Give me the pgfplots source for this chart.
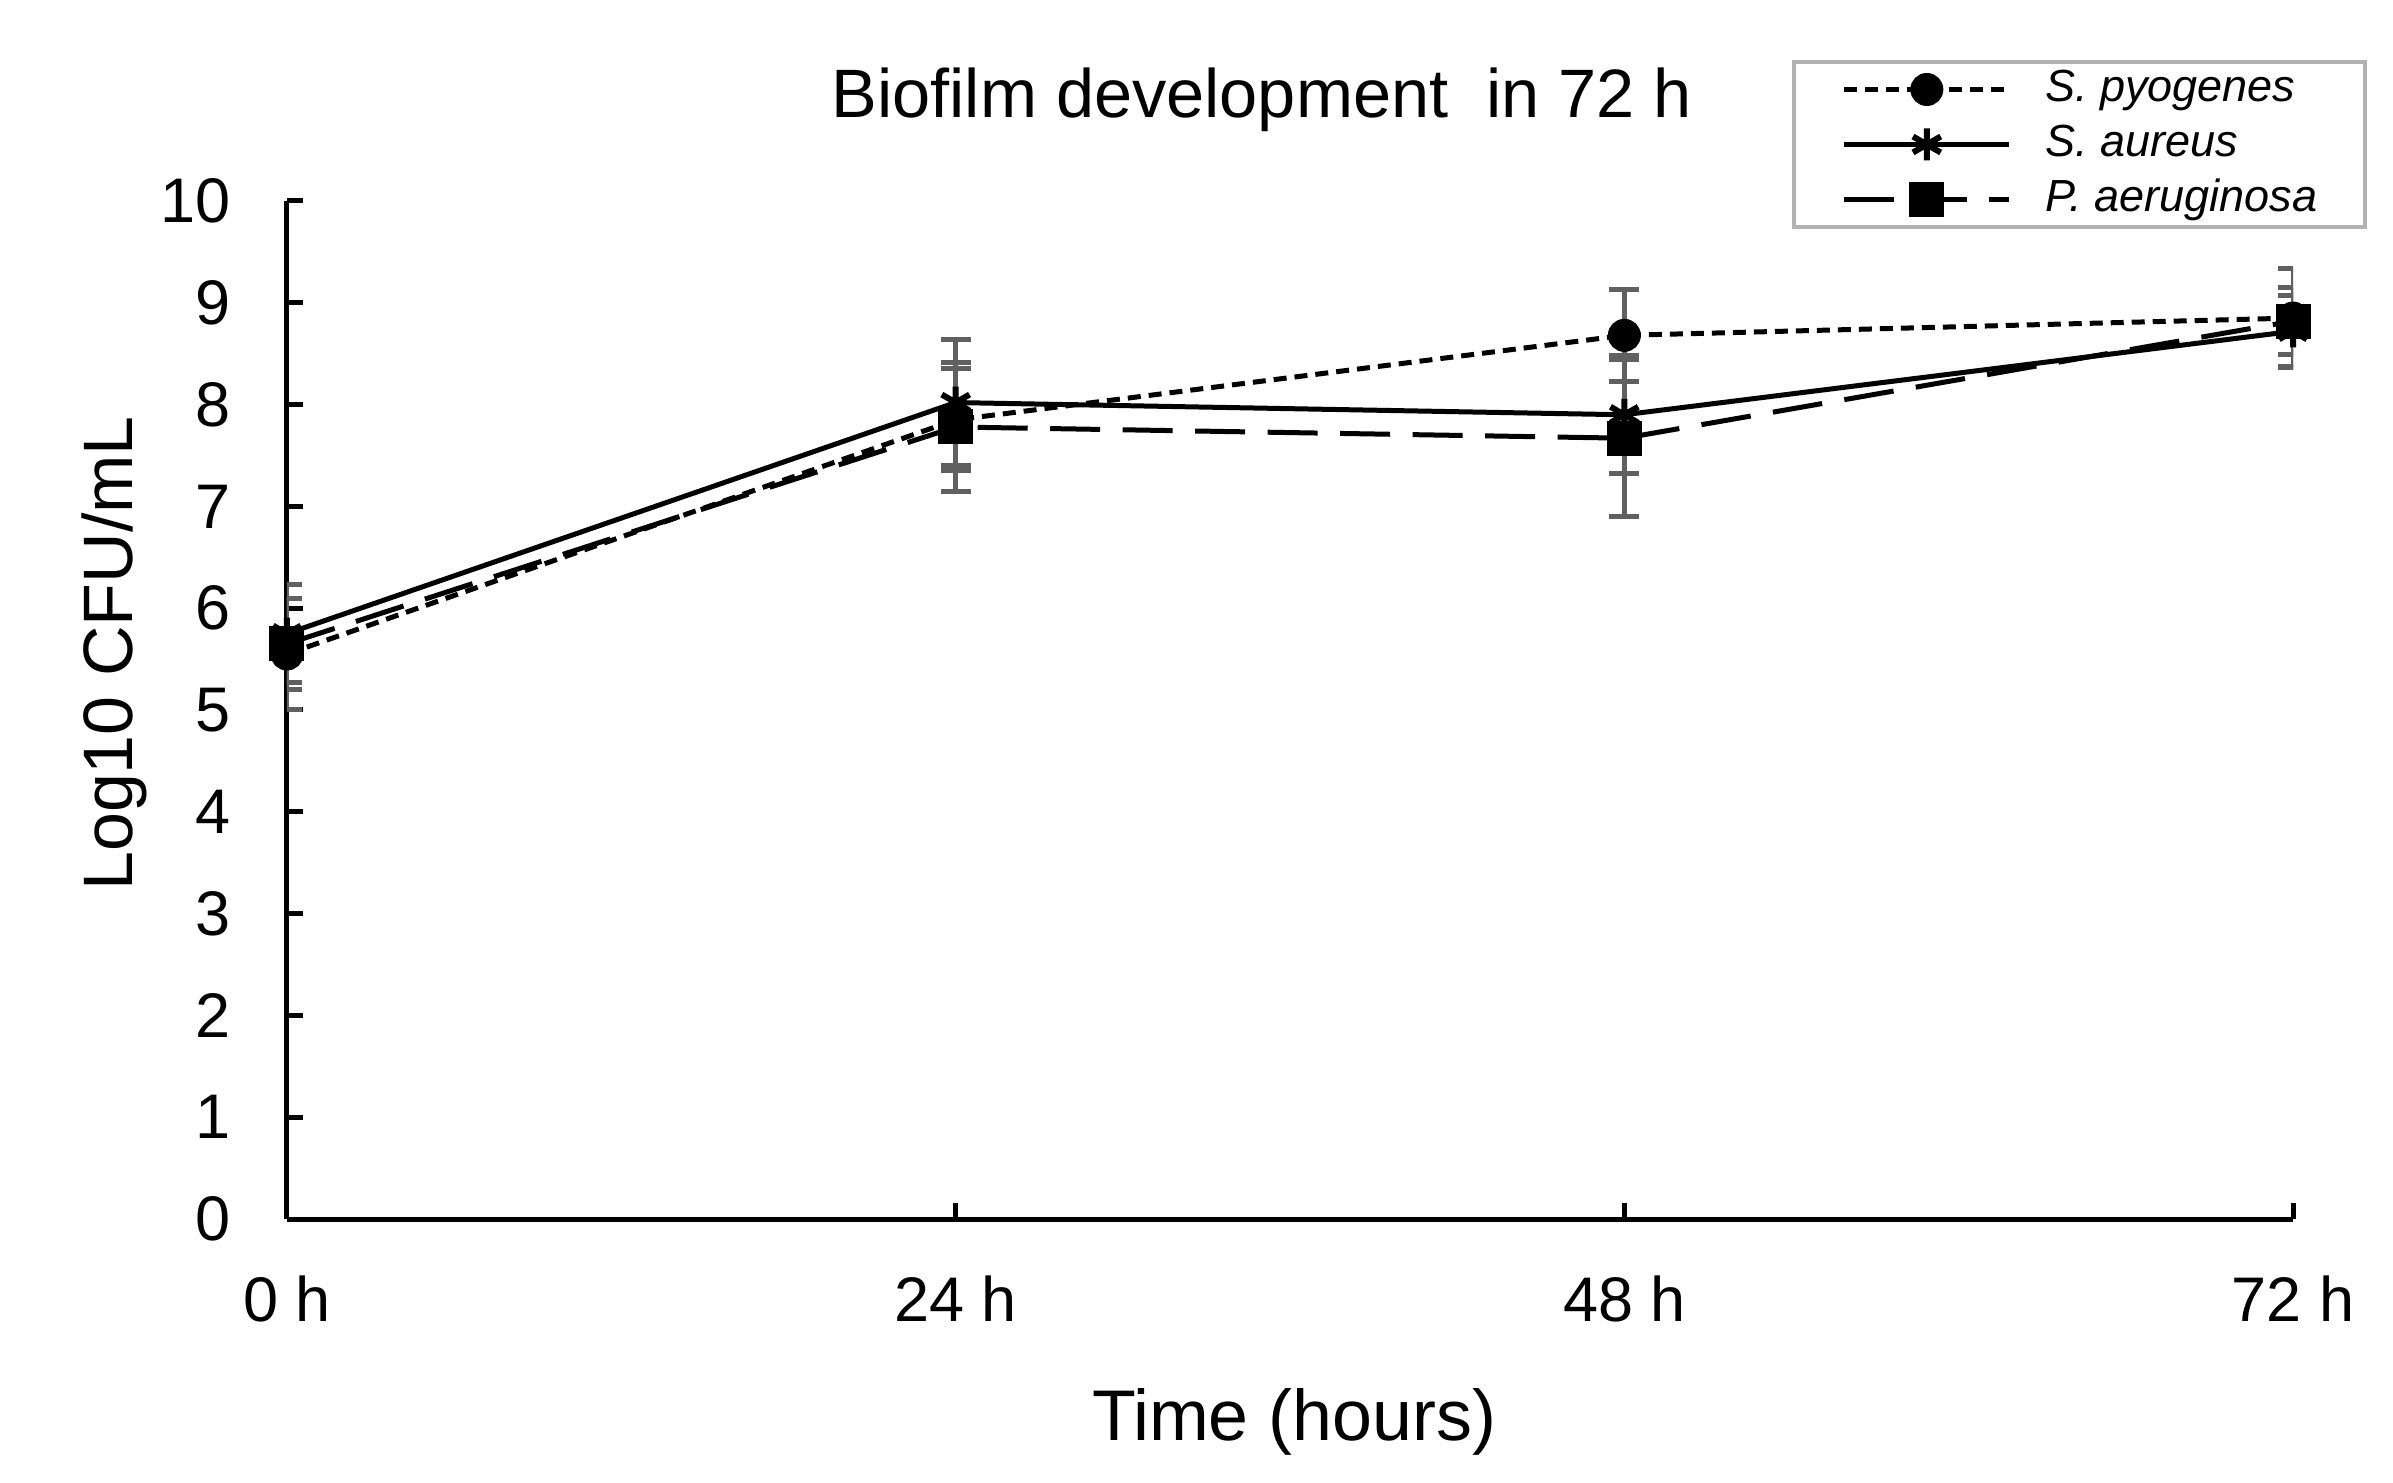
\documentclass[border=0pt]{standalone}
\usepackage{fontspec}
\setmainfont{Liberation Sans}
\usepackage{pgfplots}
\pgfplotsset{compat=1.18}
\begin{document}
\begin{tikzpicture}
\begin{axis}[
    scale only axis,
    width=401.2pt, height=203.6pt,
    xmin=0, xmax=72, ymin=0, ymax=10,
    axis lines=left,
    axis line style={-, line width=1pt},
    tick align=inside,
    major tick length=3.2pt,
    tick style={line width=1pt, black},
    xtick={0,24,48,72},
    xticklabels={0 h,24 h,48 h,72 h},
    ytick={0,1,...,10},
    /pgf/number format/assume math mode=true,
    tick label style={font=\fontsize{12.6}{15}\selectfont},
    xticklabel style={yshift=-7.8pt},
    yticklabel style={xshift=-7.8pt},
    title={Biofilm development\ \ in 72 h},
    title style={at={(axis description cs:0.486,1.07)}, anchor=center, font=\fontsize{13.7}{16}\selectfont},
    xlabel={Time (hours)},
    xlabel style={at={(axis description cs:0.502,-0.1995)}, anchor=center, font=\fontsize{14.35}{17}\selectfont},
    ylabel={Log10 CFU/mL},
    ylabel style={at={(axis description cs:-0.086,0.5555)}, anchor=center, font=\fontsize{14}{17}\selectfont},
    legend style={at={(axis description cs:1.037,1.1385)}, anchor=north east,
        draw=gray!60, line width=0.8pt, inner xsep=9.6pt, inner ysep=1pt,
        font=\fontsize{9}{10}\selectfont, row sep=2pt,
        nodes={inner xsep=0pt, inner ysep=0pt, text height=7pt, text depth=2pt},
        /tikz/every odd column/.append style={column sep=6.7pt}},
    legend cell align=left,
    legend image code/.code={
        \draw[mark repeat=2, mark phase=2] plot coordinates {(0cm,0cm) (0.58cm,0cm) (1.16cm,0cm)};
    },
    error bars/y dir=both,
    error bars/y explicit,
    error bars/error bar style={gray!75!black, line width=1pt, solid},
    error bars/error mark options={rotate=90, mark size=3pt, line width=1pt, gray!75!black, solid},
]
% S. pyogenes
\addplot[black, line width=1pt, dash pattern=on 2.6pt off 1.6pt, mark=*, mark size=2.8pt, mark options={solid}]
    coordinates {(0,5.55) +- (0,0.55) (24,7.85) +- (0,0.5) (48,8.68) +- (0,0.45) (72,8.85) +- (0,0.49)};
\addlegendentry{\textit{S. pyogenes}}
% S. aureus
\addplot[black, line width=1pt, solid, mark=asterisk, mark size=3.2pt, mark options={solid, line width=1.2pt}]
    coordinates {(0,5.75) +- (0,0.48) (24,8.02) +- (0,0.62) (48,7.9) +- (0,0.58) (72,8.72) +- (0,0.35)};
\addlegendentry{\textit{S. aureus}}
% P. aeruginosa
\addplot[black, line width=1pt, dash pattern=on 10pt off 4.5pt, mark=square*, mark size=3pt, mark options={solid}]
    coordinates {(0,5.65) +- (0,0.45) (24,7.78) +- (0,0.63) (48,7.67) +- (0,0.77) (72,8.82) +- (0,0.33)};
\addlegendentry{\textit{P. aeruginosa}}
\end{axis}
\path (current axis.south west) ++(-57.4pt,-52.8pt);
\path (current axis.north east) ++(20pt,40.2pt);
\end{tikzpicture}
\end{document}
